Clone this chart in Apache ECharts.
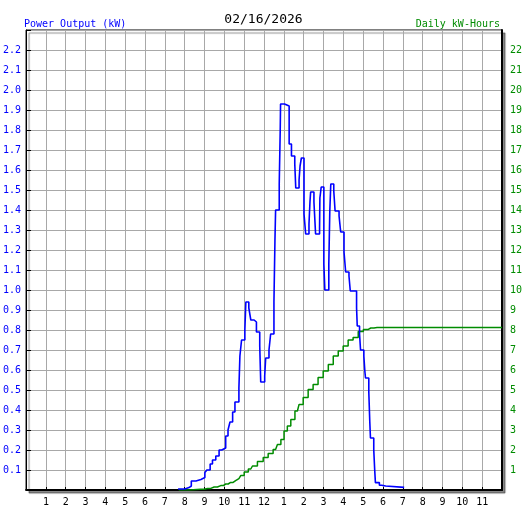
<!DOCTYPE html>
<html>
<head>
<meta charset="utf-8">
<script src="https://cdn.jsdelivr.net/npm/echarts@6/dist/echarts.min.js"></script>
<style>
html,body{margin:0;padding:0;background:#fff;}
#chart{width:527px;height:510px;}
</style>
</head>
<body>
<div id="chart"></div>
<script>
// ---- data ----
const chartDate = '02/16/2026';
const hourLabels = ['', '1','2','3','4','5','6','7','8','9','10','11','12','1','2','3','4','5','6','7','8','9','10','11',''];
const powerTickLabels = ['', '0.1','0.2','0.3','0.4','0.5','0.6','0.7','0.8','0.9','1.0','1.1','1.2','1.3','1.4','1.5','1.6','1.7','1.8','1.9','2.0','2.1','2.2',''];
const energyTickLabels = ['', '1','2','3','4','5','6','7','8','9','10','11','12','13','14','15','16','17','18','19','20','21','22',''];

// power output (kW), step values starting at each time
const powerTimes = ['7:40','8:00','8:13','8:20','8:34','8:49','9:01','9:07','9:17','9:24','9:34','9:44','9:52',
  '10:04','10:11','10:17','10:25','10:32','10:44','10:47','10:52','11:02','11:05','11:14','11:20','11:30','11:37','11:47','11:50',
  '12:02','12:05','12:15','12:20','12:30','12:33','12:35','12:46','12:49','12:50','13:02','13:16','13:23','13:33','13:36','13:46','13:49','13:53',
  '14:01','14:06','14:16','14:19','14:21','14:31','14:36','14:48','14:49','14:53','15:01','15:04','15:16','15:19','15:22','15:31','15:35','15:47','15:52',
  '16:02','16:07','16:17','16:21','16:40','16:42','16:49','16:52','17:02','17:05','17:07','17:17','17:20','17:22','17:32','17:35','17:37','17:49','17:56',
  '18:08','19:04'];
const powerKW = [0.005,0.012,0.02,0.045,0.053,0.062,0.087,0.10,0.13,0.15,0.17,0.20,0.21,
  0.27,0.30,0.34,0.39,0.44,0.51,0.67,0.75,0.80,0.94,0.91,0.85,0.84,0.79,0.72,0.54,
  0.57,0.66,0.70,0.78,0.94,1.245,1.40,1.53,1.80,1.93,1.92,1.73,1.67,1.63,1.51,1.55,1.62,1.66,
  1.38,1.28,1.33,1.44,1.49,1.44,1.28,1.31,1.46,1.515,1.13,1.00,1.13,1.395,1.53,1.495,1.395,1.37,1.29,
  1.19,1.09,1.07,0.995,0.91,0.82,0.78,0.70,0.67,0.595,0.56,0.49,0.34,0.26,0.20,0.095,0.037,0.024,0.02,
  0.013,0.013];

// cumulative daily energy (kWh)
const energyTimes = ['7:42','8:48','9:09','9:29','9:49','10:04','10:19','10:34','10:44','10:55','11:05','11:20','11:30','11:50',
  '12:05','12:20','12:35','12:46','12:56','13:05','13:16','13:26','13:41','13:51','14:06','14:21','14:36','14:51',
  '15:07','15:22','15:37','15:52','16:07','16:22','16:37','16:53','17:08','17:23','17:42','24:00'];
const energyKWh = [0,0.04,0.08,0.15,0.22,0.30,0.38,0.47,0.57,0.72,0.90,1.05,1.2,1.43,
  1.62,1.82,2.03,2.28,2.53,2.95,3.2,3.53,3.95,4.28,4.62,5.03,5.28,5.62,
  5.95,6.28,6.7,6.95,7.2,7.5,7.62,7.92,8.03,8.10,8.12,8.12];

function toHour(t){ const p = t.split(':'); return (+p[0]) + (+p[1])/60; }
const powerData = powerTimes.map((t,i)=>[toHour(t), powerKW[i]]);
const energyData = energyTimes.map((t,i)=>[toHour(t), energyKWh[i]]);

const MONO = '"DejaVu Sans Mono", "Liberation Mono", monospace';
const BLUE = '#0000ff';
const GREEN = '#008c00';
const GRIDC = '#a8a8a8';

const chart = echarts.init(document.getElementById('chart'), null, {renderer:'canvas'});
chart.setOption({
  animation: false,
  backgroundColor: '#ffffff',
  title: [
    {text: chartDate, left: 'center', top: 13, padding: 0,
     textStyle: {fontFamily: MONO, fontSize: 13, fontWeight: 'normal', color: '#000'}},
    {text: 'Power Output (kW)', left: 24, top: 19, padding: 0,
     textStyle: {fontFamily: MONO, fontSize: 10, fontWeight: 'normal', color: BLUE}},
    {text: 'Daily kW-Hours', right: 27, top: 19, padding: 0,
     textStyle: {fontFamily: MONO, fontSize: 10, fontWeight: 'normal', color: GREEN}}
  ],
  grid: {
    left: 25, right: 25, top: 30, bottom: 20,
    show: true, backgroundColor: '#ffffff', borderColor: '#000', borderWidth: 1,
    shadowColor: 'rgba(0,0,0,0.45)', shadowBlur: 1, shadowOffsetX: 3, shadowOffsetY: 3
  },
  xAxis: {
    type: 'value', min: 0, max: 24, interval: 1,
    axisLine: {show: true, onZero: false, lineStyle: {color: '#000', width: 2}},
    axisTick: {show: true, inside: true, length: 3, lineStyle: {color: '#000', width: 1}},
    splitLine: {show: true, lineStyle: {color: GRIDC, width: 1}},
    axisLabel: {
      margin: 7, color: '#000', fontFamily: MONO, fontSize: 10,
      formatter: v => hourLabels[Math.round(v)] || ''
    }
  },
  yAxis: [
    {
      type: 'value', position: 'left', min: 0, max: 2.3, interval: 0.1,
      axisLine: {show: true, lineStyle: {color: '#000', width: 1}},
      axisTick: {show: true, inside: true, length: 5, lineStyle: {color: '#000'}},
      splitLine: {show: true, lineStyle: {color: GRIDC, width: 1}},
      axisLabel: {
        margin: 5, color: BLUE, fontFamily: MONO, fontSize: 10,
        formatter: v => powerTickLabels[Math.round(v*10)] || ''
      }
    },
    {
      type: 'value', position: 'right', min: 0, max: 23, interval: 1,
      axisLine: {show: true, lineStyle: {color: '#000', width: 2}},
      axisTick: {show: false},
      splitLine: {show: false},
      axisLabel: {
        margin: 8, color: GREEN, fontFamily: MONO, fontSize: 10,
        formatter: v => energyTickLabels[Math.round(v)] || ''
      }
    }
  ],
  series: [
    {
      name: 'Daily kW-Hours', type: 'line', yAxisIndex: 1, step: 'middle',
      showSymbol: false, data: energyData, z: 3,
      lineStyle: {color: GREEN, width: 1.5}
    },
    {
      name: 'Power Output', type: 'line', yAxisIndex: 0, step: 'end',
      showSymbol: false, data: powerData, z: 4,
      lineStyle: {color: BLUE, width: 1.6}
    }
  ]
});
</script>
</body>
</html>
